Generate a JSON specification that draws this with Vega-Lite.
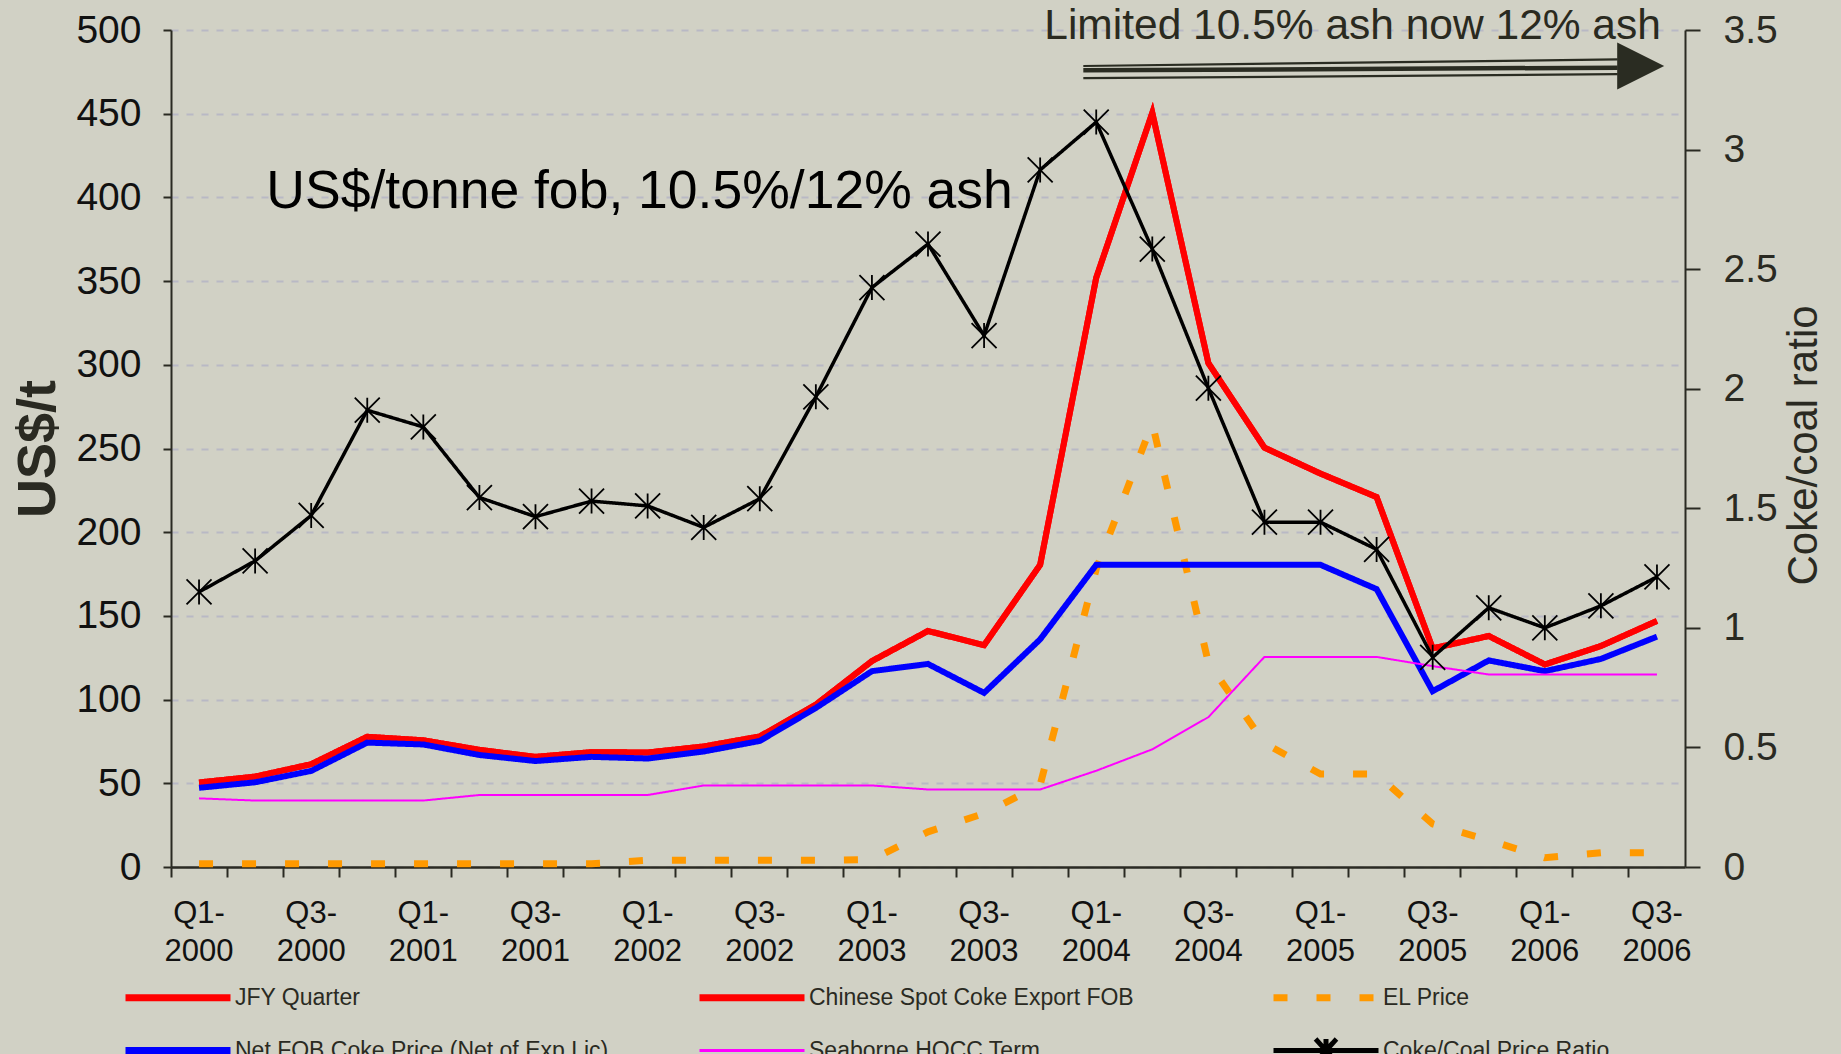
{
  "$schema": "https://vega.github.io/schema/vega-lite/v6.json",
  "width": 1514,
  "height": 837,
  "autosize": {"type": "none"},
  "padding": {"left": 171, "top": 30, "right": 156, "bottom": 187},
  "background": "#d1d1c5",
  "config": {"view": {"stroke": null}, "font": "Liberation Sans"},
  "datasets": {
    "prices": [
      {"q": "Q1-2000", "JFY Quarter": 50.5, "Chinese Spot Coke Export FOB": 50.5, "EL Price": 2, "Net FOB Coke Price (Net of Exp Lic)": 47.3, "Seaborne HQCC Term": 41, "Coke/Coal Price Ratio": 1.15},
      {"q": "Q2-2000", "JFY Quarter": 54, "Chinese Spot Coke Export FOB": 54, "EL Price": 2, "Net FOB Coke Price (Net of Exp Lic)": 50.6, "Seaborne HQCC Term": 39.7, "Coke/Coal Price Ratio": 1.28},
      {"q": "Q3-2000", "JFY Quarter": 61.4, "Chinese Spot Coke Export FOB": 61.4, "EL Price": 2, "Net FOB Coke Price (Net of Exp Lic)": 57.4, "Seaborne HQCC Term": 39.7, "Coke/Coal Price Ratio": 1.47},
      {"q": "Q4-2000", "JFY Quarter": 77.8, "Chinese Spot Coke Export FOB": 77.8, "EL Price": 2, "Net FOB Coke Price (Net of Exp Lic)": 74.3, "Seaborne HQCC Term": 39.7, "Coke/Coal Price Ratio": 1.91},
      {"q": "Q1-2001", "JFY Quarter": 75.7, "Chinese Spot Coke Export FOB": 75.7, "EL Price": 2, "Net FOB Coke Price (Net of Exp Lic)": 73.2, "Seaborne HQCC Term": 39.7, "Coke/Coal Price Ratio": 1.84},
      {"q": "Q2-2001", "JFY Quarter": 70, "Chinese Spot Coke Export FOB": 70, "EL Price": 2, "Net FOB Coke Price (Net of Exp Lic)": 66.9, "Seaborne HQCC Term": 43, "Coke/Coal Price Ratio": 1.545},
      {"q": "Q3-2001", "JFY Quarter": 65.8, "Chinese Spot Coke Export FOB": 65.8, "EL Price": 2, "Net FOB Coke Price (Net of Exp Lic)": 63.3, "Seaborne HQCC Term": 43, "Coke/Coal Price Ratio": 1.465},
      {"q": "Q4-2001", "JFY Quarter": 68.6, "Chinese Spot Coke Export FOB": 68.6, "EL Price": 2, "Net FOB Coke Price (Net of Exp Lic)": 65.8, "Seaborne HQCC Term": 43, "Coke/Coal Price Ratio": 1.53},
      {"q": "Q1-2002", "JFY Quarter": 68.4, "Chinese Spot Coke Export FOB": 68.4, "EL Price": 4, "Net FOB Coke Price (Net of Exp Lic)": 64.8, "Seaborne HQCC Term": 43, "Coke/Coal Price Ratio": 1.51},
      {"q": "Q2-2002", "JFY Quarter": 72, "Chinese Spot Coke Export FOB": 72, "EL Price": 4, "Net FOB Coke Price (Net of Exp Lic)": 69, "Seaborne HQCC Term": 48.7, "Coke/Coal Price Ratio": 1.42},
      {"q": "Q3-2002", "JFY Quarter": 78, "Chinese Spot Coke Export FOB": 78, "EL Price": 4, "Net FOB Coke Price (Net of Exp Lic)": 75.3, "Seaborne HQCC Term": 48.7, "Coke/Coal Price Ratio": 1.54},
      {"q": "Q4-2002", "JFY Quarter": 97, "Chinese Spot Coke Export FOB": 97, "EL Price": 4, "Net FOB Coke Price (Net of Exp Lic)": 95, "Seaborne HQCC Term": 48.7, "Coke/Coal Price Ratio": 1.966},
      {"q": "Q1-2003", "JFY Quarter": 123, "Chinese Spot Coke Export FOB": 123, "EL Price": 4.5, "Net FOB Coke Price (Net of Exp Lic)": 117, "Seaborne HQCC Term": 48.7, "Coke/Coal Price Ratio": 2.423},
      {"q": "Q2-2003", "JFY Quarter": 141, "Chinese Spot Coke Export FOB": 141, "EL Price": 21, "Net FOB Coke Price (Net of Exp Lic)": 121.3, "Seaborne HQCC Term": 46.3, "Coke/Coal Price Ratio": 2.605},
      {"q": "Q3-2003", "JFY Quarter": 132.5, "Chinese Spot Coke Export FOB": 132.5, "EL Price": 32, "Net FOB Coke Price (Net of Exp Lic)": 104, "Seaborne HQCC Term": 46.3, "Coke/Coal Price Ratio": 2.222},
      {"q": "Q4-2003", "JFY Quarter": 180.5, "Chinese Spot Coke Export FOB": 180.5, "EL Price": 49, "Net FOB Coke Price (Net of Exp Lic)": 136, "Seaborne HQCC Term": 46.3, "Coke/Coal Price Ratio": 2.915},
      {"q": "Q1-2004", "JFY Quarter": 352, "Chinese Spot Coke Export FOB": 352, "EL Price": 178, "Net FOB Coke Price (Net of Exp Lic)": 180.5, "Seaborne HQCC Term": 57.5, "Coke/Coal Price Ratio": 3.115},
      {"q": "Q2-2004", "JFY Quarter": 450.5, "Chinese Spot Coke Export FOB": 450.5, "EL Price": 265, "Net FOB Coke Price (Net of Exp Lic)": 180.5, "Seaborne HQCC Term": 70.3, "Coke/Coal Price Ratio": 2.584},
      {"q": "Q3-2004", "JFY Quarter": 301, "Chinese Spot Coke Export FOB": 301, "EL Price": 122, "Net FOB Coke Price (Net of Exp Lic)": 180.5, "Seaborne HQCC Term": 89.5, "Coke/Coal Price Ratio": 2.002},
      {"q": "Q4-2004", "JFY Quarter": 250.5, "Chinese Spot Coke Export FOB": 250.5, "EL Price": 74, "Net FOB Coke Price (Net of Exp Lic)": 180.5, "Seaborne HQCC Term": 125.5, "Coke/Coal Price Ratio": 1.442},
      {"q": "Q1-2005", "JFY Quarter": 235, "Chinese Spot Coke Export FOB": 235, "EL Price": 55.5, "Net FOB Coke Price (Net of Exp Lic)": 180.5, "Seaborne HQCC Term": 125.5, "Coke/Coal Price Ratio": 1.442},
      {"q": "Q2-2005", "JFY Quarter": 221, "Chinese Spot Coke Export FOB": 221, "EL Price": 55.5, "Net FOB Coke Price (Net of Exp Lic)": 166, "Seaborne HQCC Term": 125.5, "Coke/Coal Price Ratio": 1.328},
      {"q": "Q3-2005", "JFY Quarter": 130.6, "Chinese Spot Coke Export FOB": 130.6, "EL Price": 25.7, "Net FOB Coke Price (Net of Exp Lic)": 105, "Seaborne HQCC Term": 120, "Coke/Coal Price Ratio": 0.877},
      {"q": "Q4-2005", "JFY Quarter": 138, "Chinese Spot Coke Export FOB": 138, "EL Price": 16, "Net FOB Coke Price (Net of Exp Lic)": 123.4, "Seaborne HQCC Term": 115, "Coke/Coal Price Ratio": 1.084},
      {"q": "Q1-2006", "JFY Quarter": 121, "Chinese Spot Coke Export FOB": 121, "EL Price": 5.5, "Net FOB Coke Price (Net of Exp Lic)": 117, "Seaborne HQCC Term": 115, "Coke/Coal Price Ratio": 1.0},
      {"q": "Q2-2006", "JFY Quarter": 132, "Chinese Spot Coke Export FOB": 132, "EL Price": 8.5, "Net FOB Coke Price (Net of Exp Lic)": 124.3, "Seaborne HQCC Term": 115, "Coke/Coal Price Ratio": 1.092},
      {"q": "Q3-2006", "JFY Quarter": 147, "Chinese Spot Coke Export FOB": 147, "EL Price": 8.5, "Net FOB Coke Price (Net of Exp Lic)": 137.6, "Seaborne HQCC Term": 115, "Coke/Coal Price Ratio": 1.213}
    ]
  },
  "data": {"name": "prices"},
  "resolve": {"scale": {"x": "independent", "y": "independent"}},
  "layer": [
    {
      "transform": [{"fold": ["JFY Quarter", "Chinese Spot Coke Export FOB", "EL Price", "Net FOB Coke Price (Net of Exp Lic)", "Seaborne HQCC Term"], "as": ["series", "usd"]}],
      "encoding": {
        "x": {
          "field": "q", "type": "nominal",
          "scale": {"type": "band", "paddingInner": 0, "paddingOuter": 0,
            "domain": ["Q1-2000","Q2-2000","Q3-2000","Q4-2000","Q1-2001","Q2-2001","Q3-2001","Q4-2001","Q1-2002","Q2-2002","Q3-2002","Q4-2002","Q1-2003","Q2-2003","Q3-2003","Q4-2003","Q1-2004","Q2-2004","Q3-2004","Q4-2004","Q1-2005","Q2-2005","Q3-2005","Q4-2005","Q1-2006","Q2-2006","Q3-2006"]},
          "axis": {
            "orient": "bottom", "title": null, "bandPosition": 0, "tickSize": 10, "tickWidth": 2, "tickColor": "#2a2a22",
            "domainColor": "#2a2a22", "domainWidth": 2.5, "labelAngle": 0, "labelFontSize": 31, "labelColor": "#111111",
            "labelLineHeight": 38, "labelPadding": 21, "labelBaseline": "top", "labelOverlap": false,
            "labelExpr": "(isString(datum.value) && (slice(datum.value,0,2) == 'Q1' || slice(datum.value,0,2) == 'Q3')) ? [slice(datum.value,0,3), slice(datum.value,3)] : ''",
            "grid": false
          }
        },
        "y": {
          "field": "usd", "type": "quantitative", "scale": {"domain": [0, 500], "nice": false},
          "axis": {
            "orient": "left", "values": [0, 50, 100, 150, 200, 250, 300, 350, 400, 450, 500],
            "title": "US$/t", "titleFontSize": 54, "titleFontWeight": "bold", "titleColor": "#2a2a22", "titlePadding": 10,
            "grid": true, "gridColor": "#b9b9c5", "gridDash": [7, 8], "gridWidth": 1.8,
            "tickSize": 8, "tickWidth": 2, "tickColor": "#2a2a22", "domainColor": "#2a2a22", "domainWidth": 2,
            "labelFontSize": 39, "labelColor": "#111111", "labelPadding": 22
          }
        },
        "color": {
          "field": "series", "type": "nominal",
          "scale": {"domain": ["JFY Quarter", "Chinese Spot Coke Export FOB", "EL Price", "Net FOB Coke Price (Net of Exp Lic)", "Seaborne HQCC Term", "Coke/Coal Price Ratio"],
                    "range": ["#ff0000", "#ff0000", "#ff9900", "#0000ff", "#ff00ff", "#000000"]},
          "legend": {
            "orient": "none", "direction": "horizontal", "legendX": -4.5, "legendY": 952, "columns": 3, "gridAlign": "all",
            "columnPadding": 77, "rowPadding": 12, "padding": 0, "title": null,
            "symbolType": "stroke", "symbolSize": 11025, "labelFontSize": 23, "labelColor": "#2a2a22",
            "labelOffset": 45.5, "labelLimit": 0,
            "encode": {"symbols": {"update": {
              "strokeWidth": {"signal": "datum.value === 'Seaborne HQCC Term' ? 3 : datum.value === 'Coke/Coal Price Ratio' ? 5 : 7"},
              "shape": {"signal": "datum.value === 'Coke/Coal Price Ratio' ? 'M-1,0L1,0M0,-0.22L0,0.22M-0.2,-0.22L0.2,0.22M-0.2,0.22L0.2,-0.22' : 'stroke'"}
            }}}
          }
        },
        "strokeDash": {
          "field": "series", "type": "nominal",
          "scale": {"domain": ["JFY Quarter", "Chinese Spot Coke Export FOB", "EL Price", "Net FOB Coke Price (Net of Exp Lic)", "Seaborne HQCC Term", "Coke/Coal Price Ratio"],
                    "range": [[1, 0], [1, 0], [14, 29], [1, 0], [1, 0], [1, 0]]}
        }
      },
      "layer": [
        {"transform": [{"filter": {"field": "series", "oneOf": ["JFY Quarter", "Chinese Spot Coke Export FOB"]}}], "mark": {"type": "line", "strokeWidth": 6}, "encoding": {}},
        {"transform": [{"filter": {"field": "series", "equal": "EL Price"}}], "mark": {"type": "line", "strokeWidth": 7}, "encoding": {}},
        {"transform": [{"filter": {"field": "series", "equal": "Net FOB Coke Price (Net of Exp Lic)"}}], "mark": {"type": "line", "strokeWidth": 6}, "encoding": {}},
        {"transform": [{"filter": {"field": "series", "equal": "Seaborne HQCC Term"}}], "mark": {"type": "line", "strokeWidth": 2}, "encoding": {}}
      ]
    },
    {
      "transform": [{"fold": ["Coke/Coal Price Ratio"], "as": ["series", "ratio"]}],
      "encoding": {
        "x": {
          "field": "q", "type": "nominal",
          "scale": {"type": "band", "paddingInner": 0, "paddingOuter": 0,
            "domain": ["Q1-2000","Q2-2000","Q3-2000","Q4-2000","Q1-2001","Q2-2001","Q3-2001","Q4-2001","Q1-2002","Q2-2002","Q3-2002","Q4-2002","Q1-2003","Q2-2003","Q3-2003","Q4-2003","Q1-2004","Q2-2004","Q3-2004","Q4-2004","Q1-2005","Q2-2005","Q3-2005","Q4-2005","Q1-2006","Q2-2006","Q3-2006"]},
          "axis": null
        },
        "y": {
          "field": "ratio", "type": "quantitative", "scale": {"domain": [0, 3.5], "nice": false},
          "axis": {
            "orient": "right", "values": [0, 0.5, 1, 1.5, 2, 2.5, 3, 3.5], "format": "~g",
            "title": "Coke/coal ratio", "titleFontSize": 42, "titleFontWeight": "normal", "titleColor": "#2a2a22",
            "titleAngle": 270, "titleX": 118, "titleY": 415, "titleAlign": "center", "titleBaseline": "middle",
            "grid": false, "tickSize": 15, "tickWidth": 2, "tickColor": "#2a2a22", "domainColor": "#2a2a22", "domainWidth": 2,
            "labelFontSize": 39, "labelColor": "#2a2a22", "labelPadding": 23
          }
        }
      },
      "layer": [
        {
          "mark": {"type": "line", "strokeWidth": 3.5},
          "encoding": {
            "color": {"field": "series", "type": "nominal"},
            "strokeDash": {"field": "series", "type": "nominal"}
          }
        },
        {
          "mark": {"type": "point", "shape": "M0,-1L0,1M-1,-1L1,1M-1,1L1,-1", "size": 625, "filled": false, "stroke": "#000000", "strokeWidth": 1.8, "opacity": 1},
          "encoding": {}
        }
      ]
    },
    {
      "encoding": {
        "x": {"field": "x", "type": "quantitative", "scale": {"domain": [0, 27], "nice": false, "zero": false}, "axis": null},
        "y": {"field": "y", "type": "quantitative", "scale": {"domain": [0, 500], "nice": false}, "axis": null}
      },
      "layer": [
        {
          "data": {"values": [{"label": "US$/tonne fob, 10.5%/12% ash", "x": 1.7, "y": 393.7}]},
          "mark": {"type": "text", "align": "left", "baseline": "alphabetic", "fontSize": 53.5, "color": "#000000"},
          "encoding": {"text": {"field": "label"}}
        },
        {
          "data": {"values": [{"label": "Limited 10.5% ash now 12% ash", "x": 26.57, "y": 494.6}]},
          "mark": {"type": "text", "align": "right", "baseline": "alphabetic", "fontSize": 42.5, "color": "#2a2a20"},
          "encoding": {"text": {"field": "label"}}
        },
        {
          "data": {"values": [{"x": 16.27, "x2": 25.8, "y": 478.5, "y2": 482.4}, {"x": 16.27, "x2": 25.8, "y": 471.2, "y2": 473.6}]},
          "mark": {"type": "rule", "color": "#2a2c22", "strokeWidth": 2.2},
          "encoding": {"x2": {"field": "x2"}, "y2": {"field": "y2"}}
        },
        {
          "data": {"values": [{"x": 16.27, "x2": 25.8, "y": 475.9, "y2": 477.5}]},
          "mark": {"type": "rule", "color": "#2a2c22", "strokeWidth": 4.5},
          "encoding": {"x2": {"field": "x2"}, "y2": {"field": "y2"}}
        },
        {
          "data": {"values": [{"x": 26.21, "y": 478.5}]},
          "mark": {"type": "point", "shape": "M-1,-1L1,0L-1,1Z", "size": 2209, "filled": true, "color": "#2a2c22", "opacity": 1},
          "encoding": {}
        }
      ]
    }
  ]
}
